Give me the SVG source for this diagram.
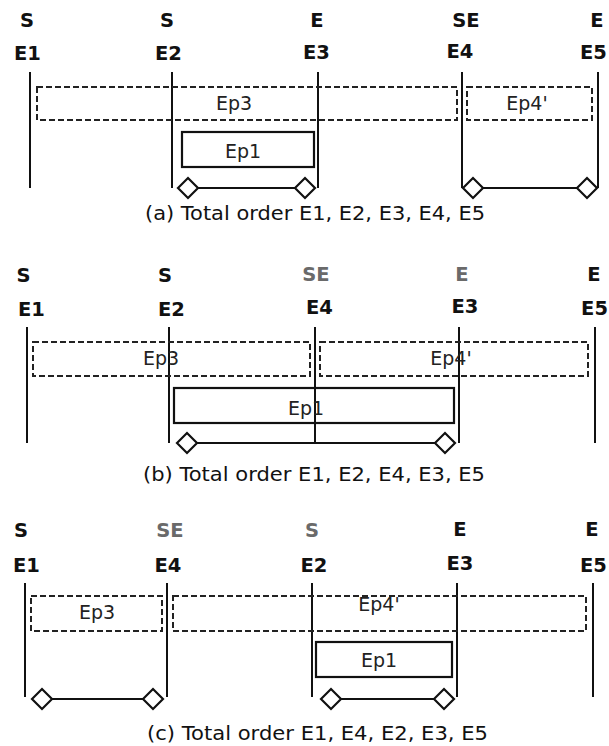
<svg xmlns="http://www.w3.org/2000/svg" width="609" height="746" viewBox="0 0 609 746">
<style>
  .lbl { font-family: "DejaVu Sans", "Liberation Sans", sans-serif; font-weight: bold; font-size: 19.5px; fill: #111; text-anchor: middle; }
  .gray { fill: #6a6a6a; }
  .ev { stroke: #111; stroke-width: 2; fill: none; }
  .dash { stroke: #222; stroke-width: 2; stroke-dasharray: 6 3; fill: none; }
  .solid { stroke: #111; stroke-width: 2.2; fill: none; }
  .blbl { font-family: "DejaVu Sans", "Liberation Sans", sans-serif; font-size: 19px; fill: #222; text-anchor: middle; }
  .cap { font-family: "DejaVu Sans", "Liberation Sans", sans-serif; font-size: 19px; fill: #111; }
  .conn { stroke: #111; stroke-width: 2; fill: none; }
  .dia { stroke: #111; stroke-width: 2.2; fill: #fff; }
</style>
<defs>
  <path id="diamond" d="M -10 0 L 0 -10 L 10 0 L 0 10 Z" class="dia"/>
</defs>
<rect width="609" height="746" fill="#fff"/>

<!-- Panel (a) -->
<g id="panel-a">
  <g id="a-E1"><text class="lbl" x="27" y="27">S</text><text class="lbl" x="27.5" y="60">E1</text><line class="ev" x1="30" y1="72" x2="30" y2="188"/></g>
  <g id="a-E2"><text class="lbl" x="167" y="27">S</text><text class="lbl" x="168.5" y="60">E2</text><line class="ev" x1="172" y1="72" x2="172" y2="188"/></g>
  <g id="a-E3"><text class="lbl" x="317" y="27">E</text><text class="lbl" x="316.5" y="59">E3</text><line class="ev" x1="318" y1="72" x2="318" y2="188"/></g>
  <g id="a-E4"><text class="lbl" x="466" y="27">SE</text><text class="lbl" x="460" y="58">E4</text><line class="ev" x1="462" y1="72" x2="462" y2="188"/></g>
  <g id="a-E5"><text class="lbl" x="597" y="27">E</text><text class="lbl" x="593.5" y="59">E5</text><line class="ev" x1="598" y1="72" x2="598" y2="188"/></g>
  <g id="a-Ep3"><rect class="dash" x="37" y="87" width="420" height="33"/><text class="blbl" x="234" y="110">Ep3</text></g>
  <g id="a-Ep4"><rect class="dash" x="467" y="87" width="125" height="33"/><text class="blbl" x="527" y="110">Ep4'</text></g>
  <g id="a-Ep1"><rect class="solid" x="182" y="132" width="132" height="35"/><text class="blbl" x="243" y="158">Ep1</text></g>
  <text class="cap" x="145" y="220" textLength="340" lengthAdjust="spacingAndGlyphs">(a) Total order E1, E2, E3, E4, E5</text>
</g>

<!-- Panel (b) -->
<g id="panel-b">
  <g id="b-E1"><text class="lbl" x="23.5" y="282">S</text><text class="lbl" x="31.5" y="316">E1</text><line class="ev" x1="27" y1="327" x2="27" y2="443"/></g>
  <g id="b-E2"><text class="lbl" x="165" y="282">S</text><text class="lbl" x="171.5" y="316">E2</text><line class="ev" x1="169" y1="327" x2="169" y2="443"/></g>
  <g id="b-E4"><text class="lbl gray" x="316" y="281">SE</text><text class="lbl" x="319.5" y="314">E4</text><line class="ev" x1="315" y1="327" x2="315" y2="443"/></g>
  <g id="b-E3"><text class="lbl gray" x="462" y="281">E</text><text class="lbl" x="465" y="313">E3</text><line class="ev" x1="459" y1="327" x2="459" y2="443"/></g>
  <g id="b-E5"><text class="lbl" x="594" y="281">E</text><text class="lbl" x="608" y="315" style="text-anchor:end">E5</text><line class="ev" x1="595" y1="327" x2="595" y2="443"/></g>
  <g id="b-Ep3"><rect class="dash" x="33" y="342" width="277" height="34"/><text class="blbl" x="161" y="365">Ep3</text></g>
  <g id="b-Ep4"><rect class="dash" x="320" y="342" width="268" height="34"/><text class="blbl" x="451" y="365">Ep4'</text></g>
  <g id="b-Ep1"><rect class="solid" x="174" y="388" width="280" height="35"/><text class="blbl" x="306" y="415">Ep1</text></g>
  <text class="cap" x="143" y="481" textLength="342" lengthAdjust="spacingAndGlyphs">(b) Total order E1, E2, E4, E3, E5</text>
</g>

<!-- Panel (c) -->
<g id="panel-c">
  <g id="c-E1"><text class="lbl" x="21" y="537">S</text><text class="lbl" x="26.5" y="572">E1</text><line class="ev" x1="25" y1="583" x2="25" y2="697"/></g>
  <g id="c-E4"><text class="lbl gray" x="170" y="537">SE</text><text class="lbl" x="168" y="572">E4</text><line class="ev" x1="167" y1="583" x2="167" y2="697"/></g>
  <g id="c-E2"><text class="lbl gray" x="312" y="537">S</text><text class="lbl" x="314" y="572">E2</text><line class="ev" x1="312" y1="583" x2="312" y2="697"/></g>
  <g id="c-E3"><text class="lbl" x="460" y="536">E</text><text class="lbl" x="460" y="570">E3</text><line class="ev" x1="457" y1="583" x2="457" y2="697"/></g>
  <g id="c-E5"><text class="lbl" x="592" y="536">E</text><text class="lbl" x="593.5" y="572">E5</text><line class="ev" x1="593" y1="583" x2="593" y2="697"/></g>
  <g id="c-Ep3"><rect class="dash" x="31" y="596" width="131" height="35"/><text class="blbl" x="97" y="619">Ep3</text></g>
  <g id="c-Ep4"><rect class="dash" x="173" y="596" width="413" height="35"/><text class="blbl" x="379" y="611">Ep4'</text></g>
  <g id="c-Ep1"><rect class="solid" x="316" y="642" width="136" height="35"/><text class="blbl" x="379" y="667">Ep1</text></g>
  <text class="cap" x="147" y="740" textLength="341" lengthAdjust="spacingAndGlyphs">(c) Total order E1, E4, E2, E3, E5</text>
</g>

<!-- Connectors -->
<g id="connectors">
  <line class="conn" x1="188" y1="188" x2="305" y2="188"/>
  <use href="#diamond" x="188" y="188"/><use href="#diamond" x="305" y="188"/>
  <line class="conn" x1="473" y1="188" x2="587" y2="188"/>
  <use href="#diamond" x="473" y="188"/><use href="#diamond" x="587" y="188"/>
  <line class="conn" x1="187" y1="443" x2="445" y2="443"/>
  <use href="#diamond" x="187" y="443"/><use href="#diamond" x="445" y="443"/>
  <line class="conn" x1="42" y1="699" x2="153" y2="699"/>
  <use href="#diamond" x="42" y="699"/><use href="#diamond" x="153" y="699"/>
  <line class="conn" x1="331" y1="699" x2="444" y2="699"/>
  <use href="#diamond" x="331" y="699"/><use href="#diamond" x="444" y="699"/>
</g>
</svg>
